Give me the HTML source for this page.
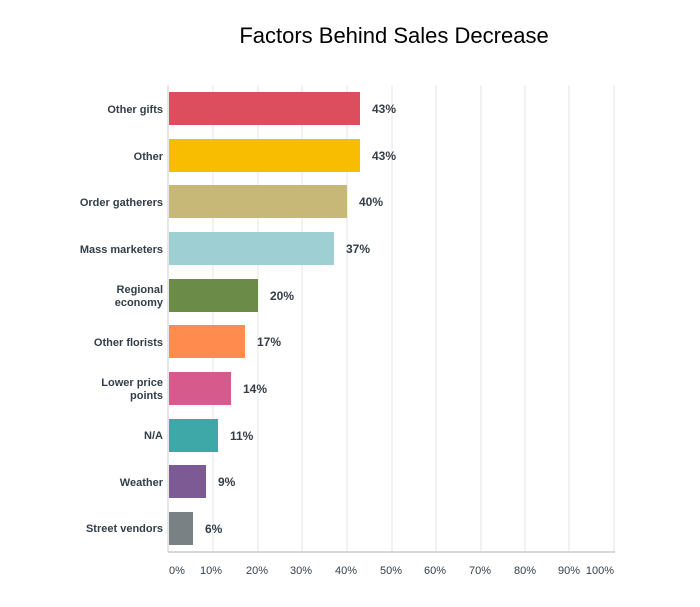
<!DOCTYPE html>
<html><head><style>
body{margin:0;background:#fff;}
svg text{font-family:"Liberation Sans",sans-serif;}
</style></head><body>
<svg width="700" height="602" xmlns="http://www.w3.org/2000/svg">
<text x="394" y="43" font-size="22" text-anchor="middle" fill="#000">Factors Behind Sales Decrease</text>
<g stroke="#e6e6e6" stroke-width="1">
<line x1="213" y1="85" x2="213" y2="552"/><line x1="258" y1="85" x2="258" y2="552"/>
<line x1="302" y1="85" x2="302" y2="552"/><line x1="347" y1="85" x2="347" y2="552"/>
<line x1="392" y1="85" x2="392" y2="552"/><line x1="436" y1="85" x2="436" y2="552"/>
<line x1="481" y1="85" x2="481" y2="552"/><line x1="525" y1="85" x2="525" y2="552"/>
<line x1="569" y1="85" x2="569" y2="552"/><line x1="614" y1="85" x2="614" y2="552"/>
</g>
<line x1="168" y1="85" x2="168" y2="552" stroke="#ccc"/>
<line x1="168" y1="552" x2="615" y2="552" stroke="#ccc" stroke-width="1.5"/>
<g>
<rect x="169" y="92" width="191" height="33" fill="#dc4d5d"/>
<rect x="169" y="139" width="191" height="33" fill="#f8bd00"/>
<rect x="169" y="185" width="178" height="33" fill="#c8b877"/>
<rect x="169" y="232" width="165" height="33" fill="#9ecfd2"/>
<rect x="169" y="279" width="89" height="33" fill="#6a8c48"/>
<rect x="169" y="325" width="76" height="33" fill="#ff8b4f"/>
<rect x="169" y="372" width="62" height="33" fill="#d65a8c"/>
<rect x="169" y="419" width="49" height="33" fill="#3ea7a7"/>
<rect x="169" y="465" width="37" height="33" fill="#7d5a93"/>
<rect x="169" y="512" width="24" height="33" fill="#7a8185"/>
</g>
<g font-size="11" font-weight="bold" fill="#333e48" text-anchor="end">
<text x="163" y="113">Other gifts</text>
<text x="163" y="160">Other</text>
<text x="163" y="206">Order gatherers</text>
<text x="163" y="253">Mass marketers</text>
<text x="163" y="293">Regional</text><text x="163" y="306">economy</text>
<text x="163" y="346">Other florists</text>
<text x="163" y="386">Lower price</text><text x="163" y="399">points</text>
<text x="163" y="439">N/A</text>
<text x="163" y="486">Weather</text>
<text x="163" y="532">Street vendors</text>
</g>
<g font-size="12" font-weight="bold" fill="#333e48">
<text x="372" y="113">43%</text>
<text x="372" y="160">43%</text>
<text x="359" y="206">40%</text>
<text x="346" y="253">37%</text>
<text x="270" y="300">20%</text>
<text x="257" y="346">17%</text>
<text x="243" y="393">14%</text>
<text x="230" y="440">11%</text>
<text x="218" y="486">9%</text>
<text x="205" y="533">6%</text>
</g>
<g font-size="11" fill="#333e48" text-anchor="middle">
<text x="177" y="574">0%</text><text x="211" y="574">10%</text><text x="257" y="574">20%</text>
<text x="301" y="574">30%</text><text x="346" y="574">40%</text><text x="391" y="574">50%</text>
<text x="435" y="574">60%</text><text x="480" y="574">70%</text><text x="525" y="574">80%</text>
<text x="569" y="574">90%</text><text x="600" y="574">100%</text>
</g>
</svg>
</body></html>
